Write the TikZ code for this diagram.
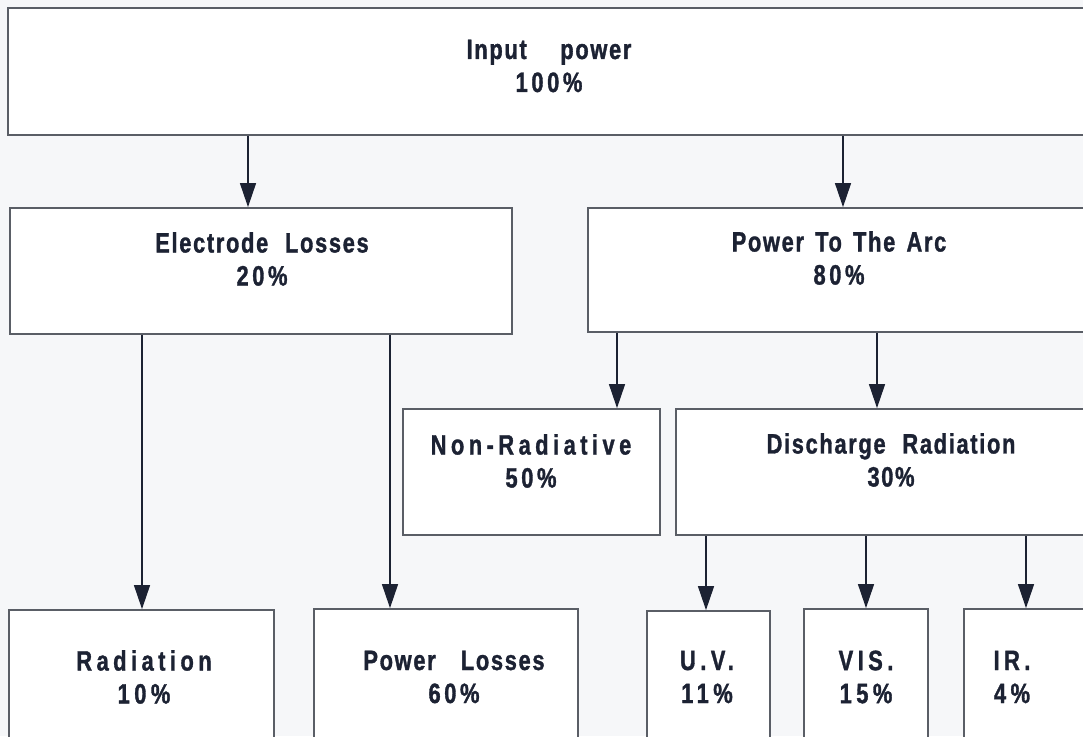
\documentclass[tikz,border=0pt]{standalone}
\usepackage{fontspec}
\newfontfamily\lblfont{Liberation Sans}[FakeStretch=0.78,LetterSpace=6,BoldFeatures={FakeBold=1.2}]
\newcommand\pctsp[1]{{\addfontfeature{LetterSpace=13}#1}}
\newcommand\widesp[1]{{\addfontfeature{LetterSpace=16}#1}}
\usetikzlibrary{arrows.meta}
\definecolor{bg}{HTML}{F6F7F9}
\definecolor{boxline}{HTML}{5A5E66}
\definecolor{ink}{HTML}{1C2233}
\begin{document}
\begin{tikzpicture}[x=1pt,y=-1pt,
  box/.style={draw=boxline,line width=1.8pt,fill=white,rectangle,inner sep=0pt},
  lbl/.style={text=ink,font=\lblfont\bfseries\fontsize{28}{33}\selectfont,align=center,inner sep=0pt},
  arr/.style={draw=ink,line width=1.3pt,-{Triangle[length=24pt,width=16pt]}}]
\useasboundingbox (0,0) rectangle (1083,736);
\clip (0,0) rectangle (1083,736);
\fill[bg] (0,0) rectangle (1083,736);
% boxes
\node[box,minimum width=1092pt,minimum height=127pt] (in) at (554,71.5) {};
\node[box,minimum width=502pt,minimum height=126pt] (el) at (261,271) {};
\node[box,minimum width=512pt,minimum height=124pt] (arc) at (844,270) {};
\node[box,minimum width=257pt,minimum height=126pt] (nr) at (531.5,472) {};
\node[box,minimum width=424pt,minimum height=126pt] (dr) at (888,472) {};
\node[box,minimum width=265pt,minimum height=150pt] (rad) at (141.5,685) {};
\node[box,minimum width=264pt,minimum height=150pt] (pl) at (446,684) {};
\node[box,minimum width=123pt,minimum height=150pt] (uv) at (708.5,686) {};
\node[box,minimum width=124pt,minimum height=150pt] (vis) at (866,684) {};
\node[box,minimum width=136pt,minimum height=150pt] (ir) at (1032,684) {};
% labels
\node[lbl] (tin) at (549,66) {Input\hspace{1.2em}power\\\pctsp{100\%}};
\node[lbl] (tel) at (262,259) {Electrode\hspace{0.6em}Losses\\\pctsp{20\%}};
\node[lbl] (tarc) at (839,258) {Power\hspace{0.4em}To\hspace{0.4em}The\hspace{0.4em}Arc\\\pctsp{80\%}};
\node[lbl] (tnr) at (531,461) {\widesp{Non-Radiative}\\\pctsp{50\%}};
\node[lbl] (tdr) at (891,460) {Discharge\hspace{0.6em}Radiation\\30\%};
\node[lbl] (trad) at (144,677) {\widesp{Radiation}\\\widesp{10\%}};
\node[lbl] (tpl) at (454,677) {Power\hspace{0.9em}Losses\\\pctsp{60\%}};
\node[lbl] (tuv) at (707,677) {\widesp{U.V.}\\\widesp{11\%}};
\node[lbl] (tvis) at (866,677) {\widesp{VIS.}\\\widesp{15\%}};
\node[lbl] (tir) at (1012,677) {\widesp{IR.}\\\widesp{4\%}};
% arrows
\draw[arr] (in.south -| 248,0) -- (el.north -| 248,0);
\draw[arr] (in.south -| 843,0) -- (arc.north -| 843,0);
\draw[arr] (el.south -| 142,0) -- (rad.north -| 142,0);
\draw[arr] (el.south -| 390,0) -- (pl.north -| 390,0);
\draw[arr] (arc.south -| 617,0) -- (nr.north -| 617,0);
\draw[arr] (arc.south -| 877,0) -- (dr.north -| 877,0);
\draw[arr] (dr.south -| 706,0) -- (uv.north -| 706,0);
\draw[arr] (dr.south -| 866,0) -- (vis.north -| 866,0);
\draw[arr] (dr.south -| 1026,0) -- (ir.north -| 1026,0);
\end{tikzpicture}
\end{document}
